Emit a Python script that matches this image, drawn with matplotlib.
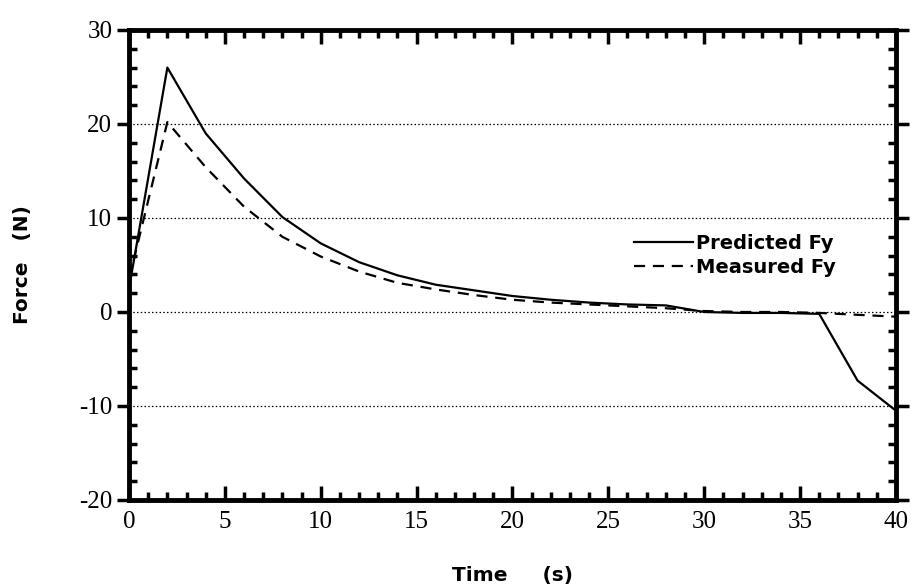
import numpy as np
import matplotlib.pyplot as plt
from matplotlib.ticker import MultipleLocator

t = [0, 2, 4, 6, 8, 10, 12, 14, 16, 18, 20, 22, 24, 26, 28, 30, 32, 34, 36, 38, 40]
predicted = [2.5, 26.0, 19.0, 14.2, 10.1, 7.3, 5.3, 3.9, 2.9, 2.3, 1.7, 1.3, 1.0, 0.8, 0.7, 0.0, -0.1, -0.1, -0.2, -7.3, -10.5]
measured = [3.5, 20.2, 15.4, 11.2, 8.0, 5.9, 4.3, 3.1, 2.4, 1.8, 1.3, 1.0, 0.8, 0.6, 0.4, 0.1, 0.0, 0.0, -0.1, -0.3, -0.5]

sans = 'DejaVu Sans'
serif = 'Liberation Serif'
plt.rcParams['axes.unicode_minus'] = False

fig = plt.figure(figsize=(9.17, 5.88), dpi=100)
ax = fig.add_axes([0.1407, 0.1497, 0.8363, 0.7993])

ax.plot(t, predicted, color='black', lw=1.6, label='Predicted Fy')
ax.plot(t, measured, color='black', lw=1.6, ls=(0, (5, 3.5)), label='Measured Fy')

ax.set_xlim(0, 40)
ax.set_ylim(-20, 30)
ax.xaxis.set_major_locator(MultipleLocator(5))
ax.xaxis.set_minor_locator(MultipleLocator(1))
ax.yaxis.set_major_locator(MultipleLocator(10))
ax.yaxis.set_minor_locator(MultipleLocator(2))

for s in ax.spines.values():
    s.set_linewidth(3.5)

ax.tick_params(axis='x', which='major', direction='in', length=10, width=2.5,
               top=True, bottom=True, pad=8)
ax.tick_params(axis='x', which='minor', direction='in', length=6, width=2.5,
               top=True, bottom=True)
ax.tick_params(axis='y', which='major', direction='out', length=9, width=2.5,
               left=True, right=True, pad=3)
ax.tick_params(axis='y', which='minor', direction='in', length=6, width=2.5,
               left=True, right=True)

for lab in ax.get_xticklabels() + ax.get_yticklabels():
    lab.set_fontfamily(serif)
    lab.set_fontsize(18)

ax.yaxis.grid(True, which='major', ls=(0, (1.2, 1.8)), lw=0.9, color='black')
ax.set_axisbelow(True)

ax.set_xlabel('Time     (s)', fontfamily=sans, fontweight='bold', fontsize=14.5, labelpad=24)
ax.set_ylabel('Force   (N)', fontfamily=sans, fontweight='bold', fontsize=14.5, labelpad=34)

leg = ax.legend(loc='center', bbox_to_anchor=(0.79, 0.52), frameon=True,
                prop={'family': sans, 'weight': 'bold', 'size': 14},
                handlelength=3.0, handletextpad=0.15, labelspacing=0.25,
                borderpad=0.3, fancybox=False)
leg.get_frame().set_facecolor('white')
leg.get_frame().set_edgecolor('none')
leg.get_frame().set_alpha(1)

fig.savefig('out.png', dpi=100)
